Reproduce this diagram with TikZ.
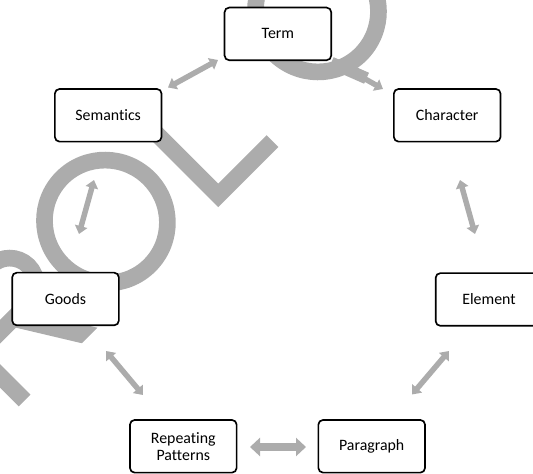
\documentclass[tikz,border=0pt]{standalone}
\usepackage{fontspec}
\setmainfont{Carlito}[Ligatures=NoCommon]
\usetikzlibrary{arrows.meta}
\definecolor{wmgray}{RGB}{172,172,172}
\begin{document}
\begin{tikzpicture}[x=0.75pt,y=-0.75pt,
  box/.style={draw=black, line width=1.25pt, rounded corners=3.5pt, fill=white,
    minimum width=80pt, minimum height=39.5pt, inner sep=0pt, align=center,
    font=\fontsize{11.9}{12.9}\selectfont},
  dblarrow/.style={draw=wmgray, line width=4.1pt, line cap=butt,
    {Triangle[width=9.4pt,length=6pt]}-{Triangle[width=9.4pt,length=6pt]}},
  bigarrow/.style={draw=wmgray, line width=5.4pt, line cap=butt,
    {Triangle[width=13.5pt,length=7.5pt]}-{Triangle[width=13.5pt,length=7.5pt]}},
  wm/.style={draw=wmgray, line width=12.5pt, line cap=butt, line join=miter}]
\useasboundingbox (0,0) rectangle (533,474);

% watermark letters (behind the diagram)
\begin{scope}[shift={(206.85,206.85)}, x={(0.53pt,0.53pt)}, y={(-0.53pt,0.53pt)}]
  % R
  \draw[wm] (-266,-8) -- (-266,119);
  \draw[wm] (-266,111) -- (-194.5,111) arc[start angle=90,end angle=-90,radius=26.5] -- (-266,58);
  \fill[wmgray] (-185,-8) -- (-163,-8) -- (-205,60) -- (-227,60) -- cycle;
  % O
  \draw[wm] (-81.8,61) ellipse [x radius=61, y radius=62];
  % L
  \draw[wm] (16.2,119) -- (16.2,0) -- (93,0);
  % Q
  \draw[wm] (216.9,61) ellipse [x radius=61, y radius=62];
  \draw[draw=wmgray, line width=9pt] (190,14) -- (204,-22);
\end{scope}

% arrow end points
\coordinate (a1s) at (168,87.5);  \coordinate (a1e) at (218,60);
\coordinate (a2s) at (335,62);    \coordinate (a2e) at (383,89);
\coordinate (a3s) at (460,180);   \coordinate (a3e) at (475,234);
\coordinate (a4s) at (94,180);    \coordinate (a4e) at (79,234);
\coordinate (a5s) at (106,351);   \coordinate (a5e) at (143,395);
\coordinate (a6s) at (449,351);   \coordinate (a6e) at (412,394.5);
\coordinate (a7s) at (250,447);   \coordinate (a7e) at (306,447);

\draw[dblarrow] (a1s) -- (a1e);
\draw[dblarrow] (a2s) -- (a2e);
\draw[dblarrow] (a3s) -- (a3e);
\draw[dblarrow] (a4s) -- (a4e);
\draw[dblarrow] (a5s) -- (a5e);
\draw[dblarrow] (a6s) -- (a6e);
\draw[bigarrow] (a7s) -- (a7e);

% boxes
\node[box] (term) at (277.9,33.9) {Term};
\node[box] (sem)  at (108.2,115.3) {Semantics};
\node[box] (char) at (447.2,115.3) {Character};
\node[box] (goods) at (65.5,299) {Goods};
\node[box] (elem) at (489,299.5) {Element};
\node[box] (rep)  at (183.3,446.3) {Repeating\\Patterns};
\node[box] (para) at (371.7,446.3) {Paragraph};
\end{tikzpicture}
\end{document}
